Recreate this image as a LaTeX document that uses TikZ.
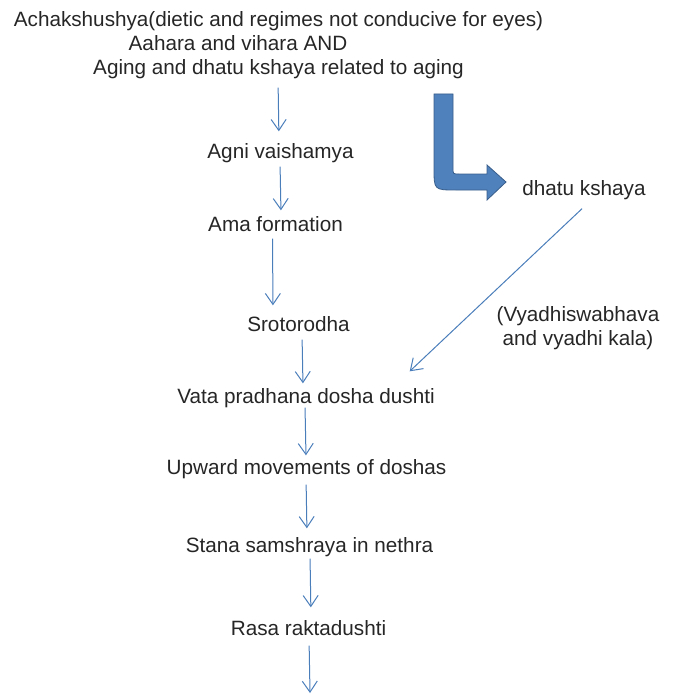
\documentclass[tikz,border=0pt]{standalone}
\usepackage{fontspec}
\setmainfont{Liberation Sans}
\usetikzlibrary{arrows.meta}
\definecolor{txtgray}{HTML}{262626}
\definecolor{flowblue}{HTML}{4A7EBB}
\definecolor{blockfill}{HTML}{4F81BD}
\definecolor{blockline}{HTML}{385D8A}
\begin{document}
\begin{tikzpicture}[x=1pt, y=-1pt, font=\fontsize{20.7}{24}\selectfont, every node/.style={inner sep=0pt, outer sep=0pt, text=txtgray, text height=16.7pt, text depth=2.7pt},
	flow/.style={draw=flowblue, line width=1pt, -{Straight Barb[length=11pt, width=15pt]}}]
	\useasboundingbox (0, 0) rectangle (674, 695);

	% causes
	\node (achak) at (278.5, 20) {Achakshushya(dietic and regimes not conducive for eyes)};
	\node (ahara) at (238, 44) {Aahara and vihara AND};
	\node (aging) at (278.5, 68) {Aging and dhatu kshaya related to aging};

	% main chain
	\node (agni) at (280.5, 152) {Agni vaishamya};
	\node (ama) at (275.5, 224) {Ama formation};
	\node (sroto) at (298.5, 324) {Srotorodha};
	\node (vata) at (306, 396) {Vata pradhana dosha dushti};
	\node (upward) at (306.5, 467) {Upward movements of doshas};
	\node (stana) at (309.5, 545) {Stana samshraya in nethra};
	\node (rasa) at (308.5, 628) {Rasa raktadushti};
	\coordinate (next) at (310, 693);

	% side branch
	\node (dhatu) at (584, 188) {dhatu kshaya};
	\node[align=center] (kala) at (578, 338) {(Vyadhiswabhava\\and vyadhi kala)};

	\draw[flow, shorten <=10pt, shorten >=11pt] ([xshift=-0.5pt]aging.south) -- ([xshift=-1.5pt]agni.north);
	\draw[flow, shorten <=5pt, shorten >=4pt] ([xshift=-0.5pt]agni.south) -- ([xshift=5.5pt]ama.north);
	\draw[flow, shorten <=5pt, shorten >=9pt] ([xshift=-3pt]ama.south) -- ([xshift=-25.5pt]sroto.north);
	\draw[flow, shorten <=6pt, shorten >=3pt] ([xshift=3.5pt]sroto.south) -- ([xshift=-3pt]vata.north);
	\draw[flow, shorten <=2pt, shorten >=2pt] ([xshift=-1pt]vata.south) -- ([xshift=-0.5pt]upward.north);
	\draw[flow, shorten <=8pt, shorten >=7pt] ([xshift=-0.5pt]upward.south) -- ([xshift=-2.5pt]stana.north);
	\draw[flow, shorten <=4pt, shorten >=11pt] ([xshift=0.5pt]stana.south) -- ([xshift=2.5pt]rasa.north);
	\draw[flow, shorten <=8pt] ([xshift=0.5pt]rasa.south) -- (next);
	\draw[flow] ([xshift=-2pt, yshift=-11pt]dhatu.south) -- ([xshift=-25pt, yshift=15pt]vata.north east);

	% bent block arrow
	\draw[fill=blockfill, draw=blockline, line width=0.8pt, line join=miter] (434, 94) -- (453, 94) -- (453, 168) .. controls (453, 174) .. (459, 174) -- (487, 174) -- (487, 165) -- (506, 182) -- (487, 200) -- (487, 190) -- (456, 190) .. controls (434, 190) .. (434, 168) -- cycle;
\end{tikzpicture}
\end{document}
